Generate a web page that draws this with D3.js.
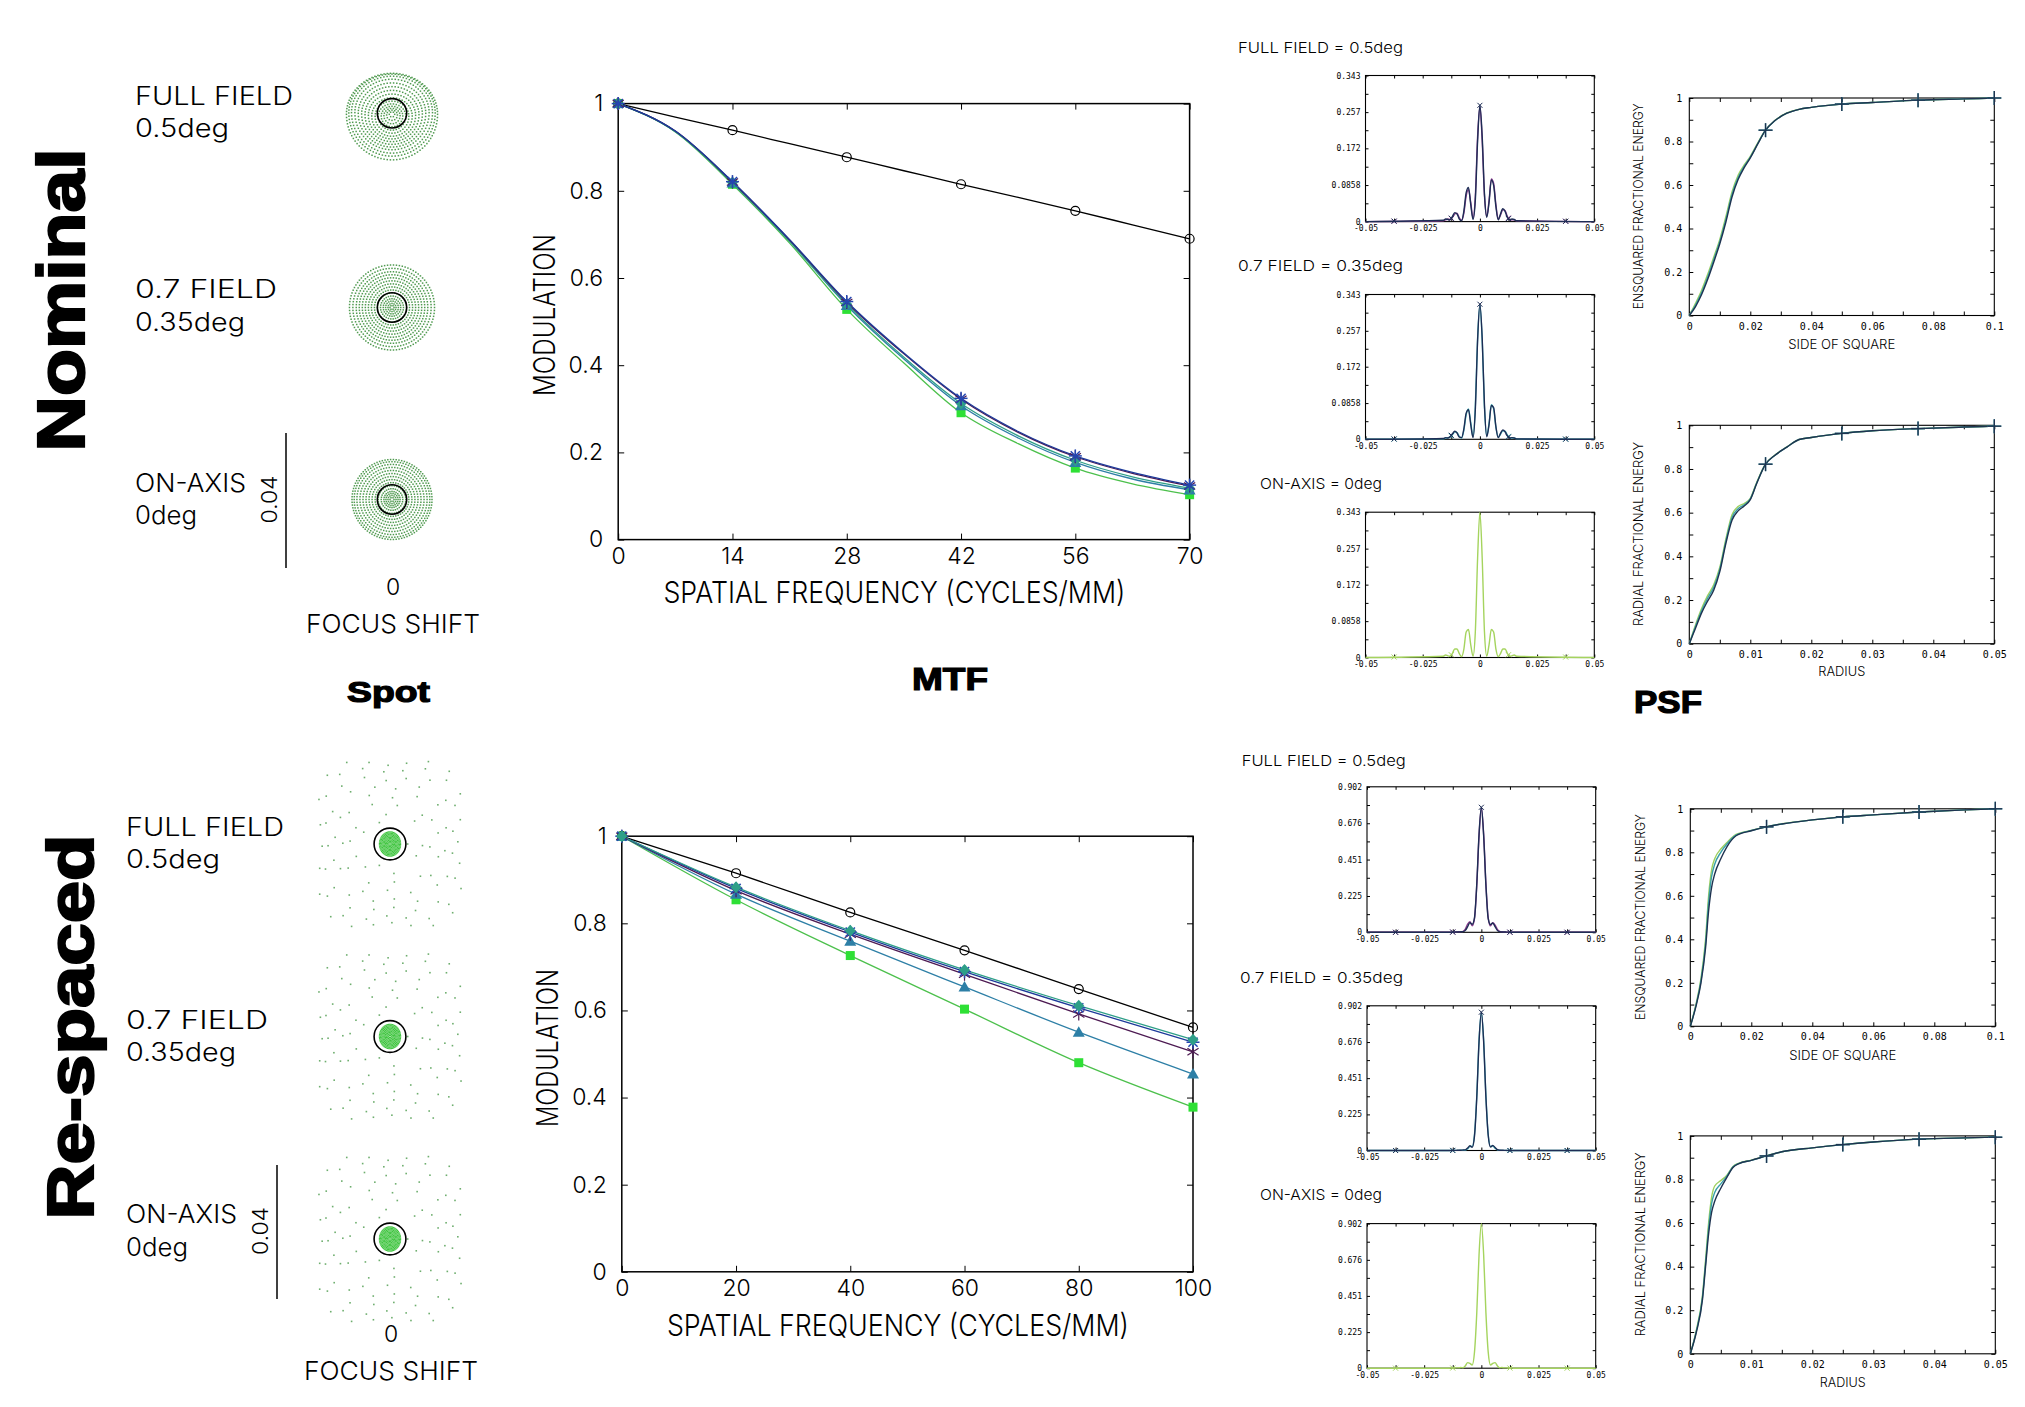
<!DOCTYPE html>
<html><head><meta charset="utf-8">
<script src="https://cdn.jsdelivr.net/npm/d3@7"></script>
<style>html,body{margin:0;padding:0;background:#fff}svg{display:block}</style>
</head><body>
<svg id="c" width="2025" height="1407"></svg>
<script>
// ================= DATA =================
const sectionTitles = ["Nominal", "Re-spaced"];
const panelTitles = ["Spot", "MTF", "PSF"];
const spotFieldNames = ["FULL FIELD", "0.7 FIELD", "ON-AXIS"];
const spotFieldAngles = ["0.5deg", "0.35deg", "0deg"];
const psfTitles = ["FULL FIELD = 0.5deg", "0.7 FIELD = 0.35deg", "ON-AXIS = 0deg"];
const focusShiftLabel = "FOCUS SHIFT";
const focusShiftTick = "0";
const spotScaleBarMm = 0.04;
const spotScaleBarLabel = "0.04";

// Spot diagram ring radii (microns)
const spotNomFullR  = [0.8,1.6,2.4,3.2,4.1,5.0,6.0,7.0,8.0,9.0,10.0,11.0,12.0,12.8,13.5];
const spotNomFullDy = [0.3,0.5,0.7,0.8,0.9,0.9,0.8,0.6,0.4,0.2,0.0,-0.2,-0.2,-0.1,0.3];
const spotNomMidR   = [0.6,1.2,1.9,2.6,3.4,4.3,5.2,6.1,7.0,7.9,8.8,9.7,10.6,11.6,12.6];
const spotNomOnR    = [0.6,1.2,1.8,2.4,3.2,4.1,5.0,5.9,6.8,7.7,8.6,9.5,10.4,11.2,11.85];
const spotResCoreR  = [0.35,0.7,1.05,1.4,1.75,2.1,2.45,2.8,3.15];
const spotResHaloR  = [6.0,8.5,11.0,13.5,16.0,18.5,21.0,23.0];
const airyRadiusNom = 4.35;
const airyRadiusRes = 4.75;

// MTF – nominal
const mtfNomFreq     = [0,7,14,21,28,35,42,49,56,63,70];
const mtfNomXTicks   = [0,14,28,42,56,70];
const mtfNomDiff     = [1,0.969,0.939,0.908,0.877,0.846,0.815,0.785,0.754,0.722,0.690];
const mtfNomStar     = [1,0.937,0.821,0.688,0.546,0.428,0.324,0.248,0.192,0.154,0.125];
const mtfNomCross    = [1,0.937,0.820,0.687,0.544,0.426,0.322,0.246,0.190,0.152,0.123];
const mtfNomDiamond  = [1,0.936,0.819,0.685,0.540,0.418,0.312,0.238,0.182,0.144,0.118];
const mtfNomTriangle = [1,0.936,0.818,0.684,0.537,0.414,0.307,0.233,0.177,0.139,0.114];
const mtfNomSquare   = [1,0.935,0.815,0.680,0.528,0.405,0.291,0.220,0.164,0.128,0.103];
// MTF – re-spaced
const mtfResFreq     = [0,20,40,60,80,100];
const mtfResXTicks   = [0,20,40,60,80,100];
const mtfResDiff     = [1,0.915,0.825,0.738,0.649,0.561];
const mtfResStar     = [1,0.880,0.780,0.689,0.606,0.527];
const mtfResCross    = [1,0.875,0.775,0.683,0.592,0.505];
const mtfResDiamond  = [1,0.883,0.783,0.693,0.611,0.533];
const mtfResTriangle = [1,0.867,0.759,0.654,0.550,0.454];
const mtfResSquare   = [1,0.854,0.726,0.603,0.480,0.378];
const mtfYTicks      = [0,0.2,0.4,0.6,0.8,1];
const mtfYTickLabels = ["0","0.2","0.4","0.6","0.8","1"];
const mtfXTitle = "SPATIAL FREQUENCY (CYCLES/MM)";
const mtfYTitle = "MODULATION";

// PSF cross-sections
const psfX = [-0.05,-0.016,-0.015,-0.014,-0.013,-0.012,-0.011,-0.010,-0.009,-0.008,-0.007,-0.006,-0.005,-0.004,-0.003,-0.002,-0.001,0,
  0.001,0.002,0.003,0.004,0.005,0.006,0.007,0.008,0.009,0.010,0.011,0.012,0.013,0.014,0.015,0.016,0.05];
const psfXTicks = [-0.05,-0.025,0,0.025,0.05];
const psfXTickLabels = ["-0.05","-0.025","0","0.025","0.05"];
const psfMarkX = [-0.0375,-0.0125,0.0125,0.0375];
const psfNomYTicks = [0,0.0858,0.172,0.257,0.343];
const psfNomYTickLabels = ["0","0.0858","0.172","0.257","0.343"];
const psfResYTicks = [0,0.225,0.451,0.676,0.902];
const psfResYTickLabels = ["0","0.225","0.451","0.676","0.902"];
const psfNomFullA = [0,0.003,0.006,0.005,0.004,0.012,0.021,0.018,0.006,0.002,0.025,0.068,0.080,0.040,0.005,0.050,0.190,0.273,
  0.200,0.065,0.010,0.045,0.098,0.085,0.035,0.004,0.018,0.030,0.024,0.010,0.004,0.006,0.005,0.002,0];
const psfNomFullB = [0,0.002,0.004,0.006,0.005,0.010,0.018,0.020,0.009,0.003,0.020,0.060,0.075,0.045,0.008,0.060,0.200,0.270,
  0.190,0.060,0.012,0.050,0.100,0.090,0.040,0.006,0.015,0.028,0.026,0.012,0.005,0.004,0.004,0.002,0];
const psfNomMidA = [0,0.002,0.004,0.003,0.006,0.013,0.019,0.015,0.005,0.004,0.025,0.062,0.070,0.035,0.004,0.070,0.235,0.320,
  0.240,0.080,0.006,0.035,0.080,0.075,0.030,0.004,0.014,0.022,0.018,0.008,0.003,0.004,0.003,0.001,0];
const psfNomMidB = [0,0.001,0.003,0.004,0.005,0.011,0.018,0.016,0.007,0.003,0.022,0.058,0.072,0.040,0.006,0.078,0.240,0.318,
  0.235,0.075,0.008,0.038,0.082,0.072,0.028,0.005,0.012,0.020,0.019,0.010,0.004,0.003,0.003,0.001,0];
const psfNomOn = [0,0.003,0.006,0.004,0.003,0.010,0.020,0.020,0.009,0.002,0.020,0.060,0.066,0.030,0.003,0.060,0.235,0.343,
  0.235,0.060,0.003,0.030,0.066,0.060,0.020,0.002,0.009,0.020,0.020,0.010,0.003,0.004,0.006,0.003,0];
const psfResFullA = [0,0,0,0,0.001,0.001,0.002,0.002,0.003,0.004,0.012,0.035,0.060,0.050,0.090,0.300,0.610,0.775,
  0.600,0.290,0.085,0.048,0.058,0.035,0.012,0.004,0.002,0.002,0.001,0.001,0,0,0,0,0];
const psfResFullB = [0,0,0,0,0.001,0.002,0.002,0.003,0.004,0.006,0.020,0.050,0.065,0.040,0.085,0.290,0.600,0.770,
  0.610,0.300,0.090,0.040,0.060,0.045,0.018,0.006,0.003,0.002,0.001,0.001,0,0,0,0,0];
const psfResMidA = [0,0,0,0,0,0.001,0.001,0.002,0.002,0.003,0.004,0.015,0.030,0.020,0.090,0.330,0.680,0.862,
  0.680,0.330,0.095,0.022,0.032,0.018,0.005,0.002,0.002,0.001,0.001,0,0,0,0,0,0];
const psfResMidB = [0,0,0,0,0,0.001,0.001,0.001,0.002,0.002,0.003,0.010,0.025,0.025,0.100,0.340,0.690,0.860,
  0.690,0.340,0.100,0.025,0.028,0.014,0.004,0.002,0.001,0.001,0,0,0,0,0,0,0];
const psfResOn = [0,0,0,0,0.001,0.001,0.002,0.002,0.004,0.003,0.015,0.035,0.030,0.020,0.100,0.345,0.710,0.902,
  0.710,0.345,0.100,0.020,0.030,0.035,0.015,0.003,0.004,0.002,0.002,0.001,0.001,0,0,0,0];

// Encircled / ensquared energy
const eeYTicks = [0,0.2,0.4,0.6,0.8,1];
const eeYTickLabels = ["0","0.2","0.4","0.6","0.8","1"];
const eeSqXTicks = [0,0.02,0.04,0.06,0.08,0.1];
const eeSqXTickLabels = ["0","0.02","0.04","0.06","0.08","0.1"];
const eeRadXTicks = [0,0.01,0.02,0.03,0.04,0.05];
const eeRadXTickLabels = ["0","0.01","0.02","0.03","0.04","0.05"];
const eeSqMarks = [0.025,0.05,0.075,0.1];
const eeRadMarks = [0.0125,0.025,0.0375,0.05];
const eeSqTitleX = "SIDE OF SQUARE", eeSqTitleY = "ENSQUARED FRACTIONAL ENERGY";
const eeRadTitleX = "RADIUS", eeRadTitleY = "RADIAL FRACTIONAL ENERGY";

const eeSqNomX = [0,0.002,0.004,0.006,0.008,0.010,0.012,0.014,0.016,0.018,0.020,0.0225,0.025,0.028,0.032,0.036,0.040,0.050,0.060,0.075,0.090,0.100];
const eeSqNomNavy  = [0,0.040,0.095,0.165,0.245,0.330,0.430,0.545,0.625,0.680,0.725,0.790,0.852,0.895,0.930,0.948,0.957,0.972,0.979,0.990,0.996,1.0];
const eeSqNomTeal  = [0,0.047,0.104,0.176,0.256,0.340,0.442,0.556,0.634,0.686,0.728,0.792,0.852,0.895,0.930,0.948,0.957,0.972,0.979,0.990,0.996,1.0];
const eeSqNomGreen = [0,0.055,0.115,0.188,0.268,0.350,0.455,0.568,0.645,0.692,0.732,0.795,0.853,0.896,0.931,0.948,0.957,0.972,0.979,0.990,0.996,1.0];
const eeRadNomX = [0,0.001,0.002,0.003,0.004,0.005,0.006,0.007,0.008,0.009,0.010,0.011,0.0125,0.014,0.016,0.018,0.020,0.025,0.030,0.0375,0.045,0.050];
const eeRadNomNavy  = [0,0.070,0.140,0.195,0.245,0.330,0.460,0.565,0.608,0.630,0.660,0.730,0.822,0.862,0.900,0.935,0.944,0.963,0.975,0.985,0.992,0.996];
const eeRadNomTeal  = [0,0.078,0.150,0.208,0.258,0.340,0.470,0.578,0.618,0.636,0.663,0.732,0.822,0.862,0.900,0.935,0.944,0.963,0.975,0.985,0.992,0.996];
const eeRadNomGreen = [0,0.085,0.160,0.220,0.270,0.350,0.480,0.590,0.628,0.642,0.666,0.735,0.823,0.863,0.901,0.935,0.944,0.963,0.975,0.985,0.992,0.996];
const eeSqResX = [0,0.002,0.0035,0.005,0.006,0.007,0.008,0.010,0.012,0.015,0.020,0.025,0.030,0.040,0.050,0.060,0.075,0.090,0.100];
const eeSqResNavy  = [0,0.100,0.200,0.360,0.530,0.640,0.700,0.770,0.825,0.876,0.899,0.917,0.930,0.949,0.963,0.972,0.985,0.995,1.0];
const eeSqResTeal  = [0,0.105,0.210,0.380,0.570,0.690,0.745,0.800,0.838,0.879,0.900,0.917,0.930,0.949,0.963,0.972,0.985,0.995,1.0];
const eeSqResGreen = [0,0.110,0.220,0.400,0.600,0.720,0.770,0.815,0.845,0.882,0.901,0.918,0.931,0.949,0.963,0.972,0.985,0.995,1.0];
const eeRadResX = [0,0.001,0.002,0.0025,0.003,0.0035,0.004,0.005,0.006,0.007,0.008,0.010,0.0125,0.015,0.020,0.025,0.030,0.0375,0.045,0.050];
const eeRadResNavy  = [0,0.100,0.250,0.400,0.550,0.650,0.700,0.760,0.810,0.855,0.873,0.888,0.908,0.927,0.945,0.960,0.972,0.985,0.991,0.994];
const eeRadResTeal  = [0,0.105,0.260,0.415,0.575,0.690,0.740,0.780,0.815,0.858,0.874,0.888,0.908,0.927,0.945,0.960,0.972,0.985,0.991,0.994];
const eeRadResGreen = [0,0.110,0.270,0.430,0.600,0.720,0.770,0.795,0.820,0.860,0.875,0.889,0.909,0.927,0.945,0.960,0.972,0.985,0.991,0.994];

// ================= STYLE =================
const FONT = "Inter, 'Open Sans', 'DejaVu Sans', sans-serif";
const MONO = "'DejaVu Sans Mono', 'Liberation Mono', monospace";
const BOLD = "'Liberation Sans', Arial, sans-serif";
const C = {navy:"#1e2d55", purple:"#8b3d8f", teal:"#45b5b8", lime:"#a5d45e",
  eeGreen:"#9fd060", eeTeal:"#3aa0a8", eeNavy:"#1f3350",
  star:"#1c3a9a", starMk:"#2446b0", cross:"#4d1a52", diamond:"#2e9f88", triangle:"#2d7fa6",
  squareLine:"#4cc04c", squareMk:"#2ee035", dot:"#3d8f3d", dotCore:"#2cbf2c"};

const svg = d3.select("#c");

function T(s, x, y, o = {}) {
  const t = svg.append("text").text(s).attr("x", x).attr("y", y)
    .attr("font-family", o.family || FONT).attr("font-size", o.size || 23)
    .attr("font-weight", o.weight || 300).attr("text-anchor", o.anchor || "start")
    .attr("fill", "#000");
  if (o.width) t.attr("textLength", o.width).attr("lengthAdjust", "spacingAndGlyphs");
  if (o.rotate) t.attr("transform", `rotate(${o.rotate},${x},${y})`);
  if (o.stroke) t.attr("stroke", "#000").attr("stroke-width", o.stroke);
  return t;
}

// ================= BIG TITLES =================
T(sectionTitles[0], 84, 300, {rotate:-90, anchor:"middle", size:66, weight:700, family:BOLD, width:303, stroke:2.2});
T(sectionTitles[1], 93, 1027, {rotate:-90, anchor:"middle", size:65, weight:700, family:BOLD, width:385, stroke:2.2});
T(panelTitles[0], 388.5, 702, {anchor:"middle", size:29, weight:700, family:BOLD, width:83, stroke:1.2});
T(panelTitles[1], 950, 690, {anchor:"middle", size:31, weight:700, family:BOLD, width:76, stroke:1.2});
T(panelTitles[2], 1668, 713, {anchor:"middle", size:31, weight:700, family:BOLD, width:68, stroke:1.2});

// ================= SPOT DIAGRAMS =================
const spotLabelW = {"FULL FIELD":158, "0.7 FIELD":142, "ON-AXIS":111, "0.5deg":94, "0.35deg":110, "0deg":62};
function spotColumn(cfg) {
  const barLen = cfg.barBottom - cfg.barTop;
  const spotScale = d3.scaleLinear().domain([0, spotScaleBarMm * 1000]).range([0, barLen]);
  const g = svg.append("g");
  cfg.rows.forEach((row, ri) => {
    T(spotFieldNames[ri], cfg.labelX, row.base1, {size:25, width:spotLabelW[spotFieldNames[ri]]});
    T(spotFieldAngles[ri], cfg.labelX, row.base2, {size:25, width:spotLabelW[spotFieldAngles[ri]]});
    row.layers.forEach(L => {
      L.r.forEach((r, i) => {
        const n = L.density * (i + 1);
        const dy = L.dy ? spotScale(L.dy[i]) : 0;
        const a0 = (L.stagger || 0) * i;
        for (let k = 0; k < n; k++) {
          const a = a0 + 2 * Math.PI * k / n;
          const rr = spotScale(r) * (1 - (L.depth || 0) * Math.cos(4 * a));
          const s = Math.sin(a);
          const sy = (s < 0 && L.syTop) ? L.syTop : L.sy;
          g.append("rect")
            .attr("x", cfg.cx + rr * Math.cos(a) - L.size / 2)
            .attr("y", row.cy + dy + rr * sy * s - L.size / 2)
            .attr("width", L.size).attr("height", L.size)
            .attr("fill", L.color).attr("opacity", L.opacity);
        }
      });
    });
    g.append("circle").attr("cx", cfg.cx).attr("cy", row.cy).attr("r", spotScale(cfg.airy))
      .attr("fill", "none").attr("stroke", "#000").attr("stroke-width", 1.6);
  });
  g.append("line").attr("x1", cfg.barX).attr("x2", cfg.barX).attr("y1", cfg.barTop).attr("y2", cfg.barBottom)
    .attr("stroke", "#000").attr("stroke-width", 1.5);
  T(spotScaleBarLabel, cfg.barX - 9, (cfg.barTop + cfg.barBottom) / 2 - 1, {rotate:-90, anchor:"middle", size:22, width:48});
  T(focusShiftTick, cfg.cx + 1, cfg.zeroBase, {anchor:"middle", size:23});
  T(focusShiftLabel, cfg.cx + 1, cfg.zeroBase + 38, {anchor:"middle", size:26, width:174});
}

spotColumn({
  cx: 392, labelX: 135, airy: airyRadiusNom, barX: 286, barTop: 433, barBottom: 568, zeroBase: 595,
  rows: [
    {cy: 113.3, base1: 104.7, base2: 136.8, layers: [{r: spotNomFullR, dy: spotNomFullDy, sy: 1.0, syTop: 0.9, density: 6, size: 1.5, color: C.dot, opacity: 0.9}]},
    {cy: 307.5, base1: 298.4, base2: 330.6, layers: [{r: spotNomMidR, sy: 1.0, density: 6, size: 1.5, color: C.dot, opacity: 0.9}]},
    {cy: 499.5, base1: 492, base2: 524, layers: [{r: spotNomOnR, sy: 1.0, density: 6, size: 1.5, color: C.dot, opacity: 0.9}]}
  ]
});
const resLayers = [
  {r: spotResHaloR, sy: 1.16, density: 3, depth: 0.12, stagger: 0.37, size: 1.6, color: "#4a9a4a", opacity: 0.8},
  {r: spotResCoreR, sy: 1.15, density: 6, stagger: 0.21, size: 1.3, color: C.dotCore, opacity: 0.9}
];
spotColumn({
  cx: 390, labelX: 126, airy: airyRadiusRes, barX: 277, barTop: 1165, barBottom: 1299, zeroBase: 1342,
  rows: [
    {cy: 844, base1: 836, base2: 868, layers: resLayers},
    {cy: 1036.5, base1: 1029.4, base2: 1061, layers: resLayers},
    {cy: 1239, base1: 1223, base2: 1255.5, layers: resLayers}
  ]
});

// ================= MARKERS =================
function marker(g, type, x, y, color) {
  const line = (x1, y1, x2, y2, w) => g.append("line").attr("x1", x1).attr("y1", y1).attr("x2", x2).attr("y2", y2)
    .attr("stroke", color).attr("stroke-width", w || 1.5);
  if (type === "circle") g.append("circle").attr("cx", x).attr("cy", y).attr("r", 4.5).attr("fill", "none").attr("stroke", color).attr("stroke-width", 1.2);
  else if (type === "star") { const s = 6.5; line(x - s, y, x + s, y); line(x, y - s, x, y + s); line(x - 4.6, y - 4.6, x + 4.6, y + 4.6); line(x - 4.6, y + 4.6, x + 4.6, y - 4.6); }
  else if (type === "cross") { const s = 6.5; line(x, y - s, x, y + s, 1.2); line(x - 5.6, y - 3.5, x + 5.6, y + 3.5, 1.2); line(x - 5.6, y + 3.5, x + 5.6, y - 3.5, 1.2); }
  else if (type === "diamond") g.append("path").attr("d", `M${x},${y - 6}L${x + 5.5},${y}L${x},${y + 6}L${x - 5.5},${y}Z`).attr("fill", color);
  else if (type === "triangle") g.append("path").attr("d", `M${x},${y - 6}L${x + 6},${y + 4.5}L${x - 6},${y + 4.5}Z`).attr("fill", color);
  else if (type === "square") g.append("rect").attr("x", x - 4.5).attr("y", y - 4.5).attr("width", 9).attr("height", 9).attr("fill", color);
  else if (type === "plus") { const s = 7; line(x - s, y, x + s, y, 1.4); line(x, y - s, x, y + s, 1.4); }
  else if (type === "x") { const s = 2.5; line(x - s, y - s, x + s, y + s, 1); line(x - s, y + s, x + s, y - s, 1); }
}

function styleAxis(a, family, size, weight) {
  a.select(".domain").remove();
  a.selectAll("line").attr("stroke", "#000").attr("stroke-width", 1);
  a.selectAll("text").attr("font-family", family).attr("font-size", size).attr("font-weight", weight).attr("fill", "#000");
  return a;
}

// ================= MTF =================
function drawMTF(b, freq, xTicks, series, titles) {
  const x = d3.scaleLinear().domain(d3.extent(xTicks)).range([b.l, b.r]);
  const y = d3.scaleLinear().domain([0, 1]).range([b.b, b.t]);
  const g = svg.append("g");
  styleAxis(g.append("g").attr("transform", `translate(0,${b.b})`).call(d3.axisBottom(x).tickValues(xTicks).tickSize(-6).tickPadding(8).tickFormat(d => String(d))), FONT, 23, 300);
  styleAxis(g.append("g").attr("transform", `translate(0,${b.t})`).call(d3.axisTop(x).tickValues(xTicks).tickSize(-6).tickFormat("")), FONT, 23, 300);
  styleAxis(g.append("g").attr("transform", `translate(${b.l},0)`).call(d3.axisLeft(y).tickValues(mtfYTicks).tickSize(-6).tickPadding(15).tickFormat((d, i) => mtfYTickLabels[i])), FONT, 23, 300);
  styleAxis(g.append("g").attr("transform", `translate(${b.r},0)`).call(d3.axisRight(y).tickValues(mtfYTicks).tickSize(-6).tickFormat("")), FONT, 23, 300);
  g.append("rect").attr("x", b.l).attr("y", b.t).attr("width", b.r - b.l).attr("height", b.b - b.t)
    .attr("fill", "none").attr("stroke", "#000").attr("stroke-width", 1.5);
  const ln = d3.line().x(d => x(d[0])).y(d => y(d[1])).curve(d3.curveMonotoneX);
  series.forEach(s => {
    const pts = freq.map((f, i) => [f, s.v[i]]);
    g.append("path").datum(pts).attr("d", ln).attr("fill", "none").attr("stroke", s.line).attr("stroke-width", 1.3);
  });
  series.forEach(s => {
    freq.forEach((f, i) => { if (xTicks.includes(f)) marker(g, s.mk, x(f), y(s.v[i]), s.mkColor); });
  });
  T(mtfXTitle, (b.l + b.r) / 2 + titles.dx, titles.xBase, {anchor:"middle", size:30, width:462});
  T(mtfYTitle, titles.yBase, titles.yMid, {anchor:"middle", size:30, width:titles.yLen, rotate:-90});
}
drawMTF({l:618.2, r:1189.6, t:103.6, b:539.6}, mtfNomFreq, mtfNomXTicks, [
  {v: mtfNomDiff, line:"#000", mk:"circle", mkColor:"#000"},
  {v: mtfNomSquare, line:C.squareLine, mk:"square", mkColor:C.squareMk},
  {v: mtfNomTriangle, line:C.triangle, mk:"triangle", mkColor:C.triangle},
  {v: mtfNomDiamond, line:C.diamond, mk:"diamond", mkColor:C.diamond},
  {v: mtfNomCross, line:C.cross, mk:"cross", mkColor:C.cross},
  {v: mtfNomStar, line:C.star, mk:"star", mkColor:C.starMk}
], {dx: -9.5, xBase: 603, yBase: 555, yMid: 315, yLen: 162});
drawMTF({l:621.8, r:1193, t:836.2, b:1271.8}, mtfResFreq, mtfResXTicks, [
  {v: mtfResDiff, line:"#000", mk:"circle", mkColor:"#000"},
  {v: mtfResSquare, line:C.squareLine, mk:"square", mkColor:C.squareMk},
  {v: mtfResTriangle, line:C.triangle, mk:"triangle", mkColor:C.triangle},
  {v: mtfResCross, line:C.cross, mk:"cross", mkColor:C.cross},
  {v: mtfResStar, line:C.star, mk:"star", mkColor:C.starMk},
  {v: mtfResDiamond, line:C.diamond, mk:"diamond", mkColor:C.diamond}
], {dx: -9.5, xBase: 1336, yBase: 558, yMid: 1048, yLen: 158});

// ================= SMALL PLOTS (PSF / EE) =================
function smallFrame(b, xDom, yDom, xTicks, xLabels, yTicks, yLabels, o) {
  const x = d3.scaleLinear().domain(xDom).range([b.l, b.r]);
  const y = d3.scaleLinear().domain(yDom).range([b.b, b.t]);
  const g = svg.append("g");
  const mids = a => d3.pairs(a).map(([p, q]) => (p + q) / 2);
  const xt = xTicks.concat(mids(xTicks)), yt = yTicks.concat(mids(yTicks));
  const xl = d => { const i = xTicks.indexOf(d); return i >= 0 ? xLabels[i] : ""; };
  const yl = d => { const i = yTicks.indexOf(d); return i >= 0 ? yLabels[i] : ""; };
  styleAxis(g.append("g").attr("transform", `translate(0,${b.b})`).call(d3.axisBottom(x).tickValues(xt).tickSize(-o.tick).tickPadding(o.xPad).tickFormat(xl)), MONO, o.font, 400);
  styleAxis(g.append("g").attr("transform", `translate(0,${b.t})`).call(d3.axisTop(x).tickValues(xt).tickSize(-o.tick).tickFormat("")), MONO, o.font, 400);
  styleAxis(g.append("g").attr("transform", `translate(${b.l},0)`).call(d3.axisLeft(y).tickValues(yt).tickSize(-o.tick).tickPadding(o.yPad).tickFormat(yl)), MONO, o.font, 400);
  styleAxis(g.append("g").attr("transform", `translate(${b.r},0)`).call(d3.axisRight(y).tickValues(yt).tickSize(-o.tick).tickFormat("")), MONO, o.font, 400);
  g.append("rect").attr("x", b.l).attr("y", b.t).attr("width", b.r - b.l).attr("height", b.b - b.t)
    .attr("fill", "none").attr("stroke", "#000").attr("stroke-width", 1.1);
  return {x, y, g};
}
function interp(xs, vs, xv) {
  const i = d3.bisectLeft(xs, xv);
  if (i <= 0) return vs[0];
  if (i >= xs.length) return vs[vs.length - 1];
  const t = (xv - xs[i - 1]) / (xs[i] - xs[i - 1]);
  return vs[i - 1] + t * (vs[i] - vs[i - 1]);
}
function drawPSF(b, yTicks, yLabels, curves, title) {
  const {x, y, g} = smallFrame(b, [-0.05, 0.05], [0, yTicks[yTicks.length - 1]], psfXTicks, psfXTickLabels, yTicks, yLabels, {tick:3, xPad:4, yPad:5, font:8});
  const ln = d3.line().x(d => x(d[0])).y(d => y(d[1])).curve(d3.curveMonotoneX);
  curves.forEach(c => {
    const pts = psfX.map((v, i) => [v, c.v[i]]);
    g.append("path").datum(pts).attr("d", ln).attr("fill", "none").attr("stroke", c.color).attr("stroke-width", 1.4);
    psfMarkX.forEach(mx => marker(g, "x", x(mx), y(interp(psfX, c.v, mx)), c.color));
    if (c.peak) marker(g, "x", x(0), y(d3.max(c.v)), c.color);
  });
  T(title.text, title.x, title.base, {size:15, width:title.w});
}
drawPSF({l:1365.5, r:1594.3, t:75.5, b:221.6}, psfNomYTicks, psfNomYTickLabels,
  [{v: psfNomFullB, color: C.purple}, {v: psfNomFullA, color: C.navy, peak: true}],
  {text: psfTitles[0], x: 1238, base: 52.5, w: 165});
drawPSF({l:1365.5, r:1594.3, t:294.5, b:439.3}, psfNomYTicks, psfNomYTickLabels,
  [{v: psfNomMidB, color: C.teal}, {v: psfNomMidA, color: C.navy, peak: true}],
  {text: psfTitles[1], x: 1238, base: 270.6, w: 165});
drawPSF({l:1365.5, r:1594.3, t:512.2, b:657.5}, psfNomYTicks, psfNomYTickLabels,
  [{v: psfNomOn, color: C.lime}],
  {text: psfTitles[2], x: 1260, base: 489, w: 122});
drawPSF({l:1367, r:1595.7, t:786.8, b:932.3}, psfResYTicks, psfResYTickLabels,
  [{v: psfResFullB, color: C.purple}, {v: psfResFullA, color: C.navy, peak: true}],
  {text: psfTitles[0], x: 1241.7, base: 765.5, w: 164});
drawPSF({l:1367, r:1595.7, t:1005.8, b:1150.5}, psfResYTicks, psfResYTickLabels,
  [{v: psfResMidB, color: C.teal}, {v: psfResMidA, color: C.navy, peak: true}],
  {text: psfTitles[1], x: 1240, base: 982.5, w: 163});
drawPSF({l:1367, r:1595.7, t:1223.6, b:1368.2}, psfResYTicks, psfResYTickLabels,
  [{v: psfResOn, color: C.lime}],
  {text: psfTitles[2], x: 1260, base: 1200, w: 122});

function drawEE(b, xTicks, xLabels, xs, curves, marks, titles) {
  const {x, y, g} = smallFrame(b, d3.extent(xTicks), [0, 1], xTicks, xLabels, eeYTicks, eeYTickLabels, {tick:4, xPad:7, yPad:7, font:10});
  const ln = d3.line().x(d => x(d[0])).y(d => y(d[1])).curve(d3.curveMonotoneX);
  curves.forEach(c => {
    g.append("path").datum(xs.map((v, i) => [v, c.v[i]])).attr("d", ln).attr("fill", "none").attr("stroke", c.color).attr("stroke-width", 1.4);
  });
  curves.slice(1).forEach(c => {
    xs.forEach((v, i) => { if (marks.includes(v)) marker(g, "plus", x(v), y(c.v[i]), c.color); });
  });
  T(titles.x, (b.l + b.r) / 2, titles.xBase, {anchor:"middle", size:13, width:titles.xW});
  T(titles.y, titles.yBase, (b.t + b.b) / 2 - 0.5, {anchor:"middle", size:13, width:titles.yW, rotate:-90});
}
drawEE({l:1689.3, r:1994.3, t:98, b:315.5}, eeSqXTicks, eeSqXTickLabels, eeSqNomX,
  [{v: eeSqNomGreen, color: C.eeGreen}, {v: eeSqNomTeal, color: C.eeTeal}, {v: eeSqNomNavy, color: C.eeNavy}], eeSqMarks,
  {x: eeSqTitleX, xBase: 349, xW: 107, y: eeSqTitleY, yBase: 1643, yW: 206});
drawEE({l:1689.3, r:1994.3, t:425.3, b:643.7}, eeRadXTicks, eeRadXTickLabels, eeRadNomX,
  [{v: eeRadNomGreen, color: C.eeGreen}, {v: eeRadNomTeal, color: C.eeTeal}, {v: eeRadNomNavy, color: C.eeNavy}], eeRadMarks,
  {x: eeRadTitleX, xBase: 676, xW: 47, y: eeRadTitleY, yBase: 1643, yW: 184});
drawEE({l:1690.3, r:1995.3, t:808.8, b:1026.3}, eeSqXTicks, eeSqXTickLabels, eeSqResX,
  [{v: eeSqResGreen, color: C.eeGreen}, {v: eeSqResTeal, color: C.eeTeal}, {v: eeSqResNavy, color: C.eeNavy}], eeSqMarks,
  {x: eeSqTitleX, xBase: 1060, xW: 107, y: eeSqTitleY, yBase: 1645, yW: 206});
drawEE({l:1690.3, r:1995.3, t:1135.9, b:1353.8}, eeRadXTicks, eeRadXTickLabels, eeRadResX,
  [{v: eeRadResGreen, color: C.eeGreen}, {v: eeRadResTeal, color: C.eeTeal}, {v: eeRadResNavy, color: C.eeNavy}], eeRadMarks,
  {x: eeRadTitleX, xBase: 1387, xW: 46, y: eeRadTitleY, yBase: 1645, yW: 184});
</script>
</body></html>
